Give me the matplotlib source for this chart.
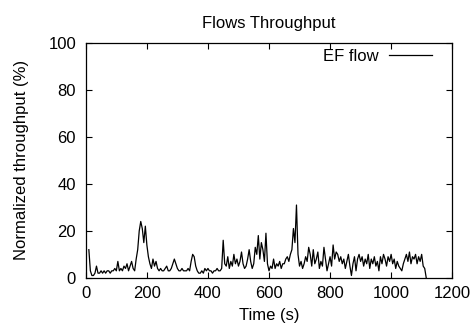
import matplotlib
matplotlib.use("Agg")
import matplotlib.pyplot as plt
import numpy as np

# sampled every 5 s, starting at t = 10 s
t_start = 10
t_step = 5
ef_flow = [
    12, 3, 1, 1, 2, 5, 2, 2,
    3, 2, 3, 2, 3, 3, 2, 3, 3, 4,
    3, 7, 3, 4, 3, 5, 4, 6, 3, 5,
    7, 4, 3, 8, 12, 20, 24, 21, 15, 22,
    14, 9, 6, 4, 8, 5, 7, 4, 3, 4,
    3, 3, 4, 5, 3, 3, 4, 6, 8, 6,
    4, 3, 3, 4, 3, 3, 3, 4, 3, 7,
    10, 9, 5, 3, 2, 2, 3, 2, 4, 3,
    4, 3, 3, 2, 3, 3, 4, 3, 3, 4,
    16, 6, 5, 9, 4, 7, 5, 10, 6, 8,
    5, 7, 11, 6, 4, 5, 8, 12, 7, 4,
    6, 13, 10, 18, 8, 15, 12, 7, 19, 6,
    3, 5, 4, 8, 4, 6, 5, 7, 4, 6,
    6, 8, 9, 7, 10, 12, 21, 15, 31, 10,
    5, 7, 4, 6, 9, 7, 13, 10, 5, 12,
    6, 8, 11, 4, 7, 5, 13, 8, 3, 6,
    9, 5, 14, 8, 11, 10, 7, 9, 6, 8,
    4, 7, 10, 5, 1, 6, 9, 3, 8, 10,
    7, 9, 5, 8, 6, 10, 4, 8, 6, 9,
    5, 7, 3, 9, 6, 10, 8, 5, 9, 7,
    10, 6, 8, 4, 7, 5, 4, 3, 6, 8,
    10, 7, 11, 6, 9, 8, 10, 6, 9, 7,
    10, 5, 4, 0,
]
time_s = t_start + t_step * np.arange(len(ef_flow))

plt.rcParams['font.family'] = ['Liberation Sans', 'DejaVu Sans']
plt.rcParams['font.size'] = 12

fig = plt.figure(figsize=(4.74, 3.30), dpi=100)
ax = fig.add_axes([0.181, 0.158, 0.773, 0.712])
ax.plot(time_s, ef_flow, color='black', linewidth=0.9, label='EF flow')

ax.set_xlim(0, 1200)
ax.set_ylim(0, 100)
ax.set_xticks(np.arange(0, 1201, 200))
ax.set_yticks(np.arange(0, 101, 20))
ax.tick_params(direction='in', top=True, right=True, length=4, width=0.8)
ax.tick_params(axis='y', pad=7)
ax.tick_params(axis='x', pad=6)
for s in ax.spines.values():
    s.set_linewidth(0.9)

ax.set_title('Flows Throughput', fontsize=12, pad=11)
ax.set_xlabel('Time (s)', labelpad=5)
ax.set_ylabel('Normalized throughput (%)', labelpad=14)
ax.legend(loc='upper right', bbox_to_anchor=(0.945, 0.975), frameon=False,
          markerfirst=False, handlelength=2.6, handletextpad=0.6,
          borderpad=0, borderaxespad=0, fontsize=12)

fig.savefig('out.png', dpi=100)
